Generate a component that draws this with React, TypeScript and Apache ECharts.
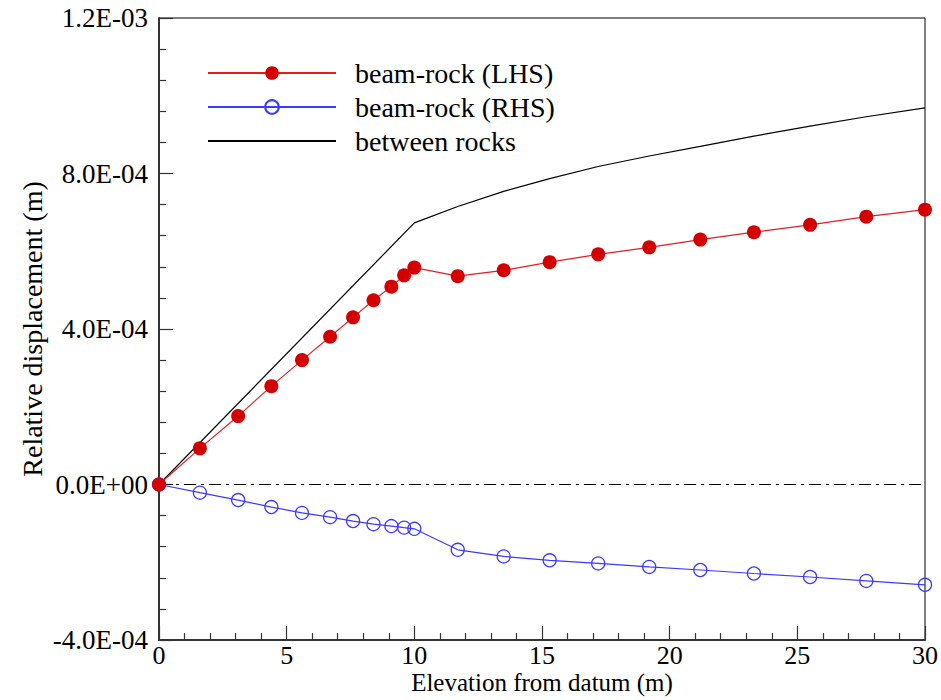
import React, { useEffect, useRef } from "react";
import * as echarts from "echarts";

const elevLHS = [0, 1.6, 3.1, 4.4, 5.6, 6.7, 7.6, 8.4, 9.1, 9.6, 10, 11.7, 13.5, 15.3, 17.2, 19.2, 21.2, 23.3, 25.5, 27.7, 30];
const dispLHS = [0, 9.3e-5, 1.76e-4, 2.53e-4, 3.2e-4, 3.8e-4, 4.3e-4, 4.74e-4, 5.09e-4, 5.38e-4, 5.58e-4, 5.36e-4, 5.51e-4, 5.72e-4, 5.92e-4, 6.1e-4, 6.3e-4, 6.49e-4, 6.68e-4, 6.89e-4, 7.07e-4];

const elevRHS = [0, 1.6, 3.1, 4.4, 5.6, 6.7, 7.6, 8.4, 9.1, 9.6, 10, 11.7, 13.5, 15.3, 17.2, 19.2, 21.2, 23.3, 25.5, 27.7, 30];
const dispRHS = [0, -2.1e-5, -4.0e-5, -5.8e-5, -7.3e-5, -8.4e-5, -9.4e-5, -1.02e-4, -1.07e-4, -1.11e-4, -1.14e-4, -1.68e-4, -1.85e-4, -1.95e-4, -2.03e-4, -2.12e-4, -2.2e-4, -2.29e-4, -2.38e-4, -2.48e-4, -2.58e-4];

const elevRock = [0, 10, 11.7, 13.5, 15.3, 17.2, 19.2, 21.2, 23.3, 25.5, 27.7, 30];
const dispRock = [0, 6.73e-4, 7.15e-4, 7.54e-4, 7.87e-4, 8.18e-4, 8.45e-4, 8.7e-4, 8.96e-4, 9.22e-4, 9.46e-4, 9.69e-4];

const zeroX = [0, 30];
const zeroY = [0, 0];

const seriesNames = ["beam-rock (LHS)", "beam-rock (RHS)", "between rocks"];

const pairs = (xs: number[], ys: number[]) => xs.map((x, i) => [x, ys[i]]);

const fmtExp = (v: number) => {
  const s = v.toExponential(1);
  const [m, e] = s.split("e");
  const sign = e[0] === "-" ? "-" : "+";
  const digits = e.replace(/[+-]/, "").padStart(2, "0");
  return `${m}E${sign}${digits}`;
};

const FONT = "'Liberation Serif', 'Times New Roman', serif";

export default function App() {
  const ref = useRef<HTMLDivElement>(null);
  useEffect(() => {
    if (!ref.current) return;
    const chart = echarts.init(ref.current, undefined, { renderer: "svg" });
    chart.setOption({
      animation: false,
      backgroundColor: "#fff",
      textStyle: { fontFamily: FONT },
      grid: {
        left: 159,
        right: 16,
        top: 18,
        bottom: 60,
        show: true,
        borderColor: "#000",
        borderWidth: 1,
        containLabel: false,
        outerBoundsMode: "none",
      },
      legend: {
        data: [
          { name: seriesNames[0] },
          { name: seriesNames[1] },
          { name: seriesNames[2], itemStyle: { color: "rgba(0,0,0,0)", borderWidth: 0, opacity: 0 } },
        ],
        orient: "vertical",
        left: 207,
        top: 59,
        padding: 0,
        itemWidth: 128,
        itemHeight: 17,
        itemGap: 6,
        textStyle: { fontFamily: FONT, fontSize: 28, color: "#000", padding: [0, 0, 0, 14] },
      },
      xAxis: {
        type: "value",
        min: 0,
        max: 30,
        interval: 5,
        name: "Elevation from datum (m)",
        nameLocation: "middle",
        nameGap: 30,
        nameMoveOverlap: false,
        nameTextStyle: { fontFamily: FONT, fontSize: 25, color: "#000" },
        axisLine: { onZero: false, lineStyle: { color: "#333", width: 2 } },
        axisTick: { inside: true, length: 14, lineStyle: { color: "#333", width: 1.2 } },
        minorTick: { show: true, splitNumber: 5, length: 7, lineStyle: { color: "#333", width: 1.2 } },
        axisLabel: { fontFamily: FONT, fontSize: 26, color: "#000", margin: 2 },
        splitLine: { show: false },
      },
      yAxis: {
        type: "value",
        min: -0.0004,
        max: 0.0012,
        interval: 0.0004,
        name: "Relative displacement (m)",
        nameLocation: "middle",
        nameGap: 113,
        nameMoveOverlap: false,
        nameRotate: 90,
        nameTextStyle: { fontFamily: FONT, fontSize: 28, color: "#000" },
        axisLine: { show: true, onZero: false, lineStyle: { color: "#333", width: 2 } },
        axisTick: { inside: true, length: 14, lineStyle: { color: "#333", width: 1.2 } },
        minorTick: { show: true, splitNumber: 5, length: 7, lineStyle: { color: "#333", width: 1.2 } },
        axisLabel: { fontFamily: FONT, fontSize: 27, color: "#000", margin: 11, formatter: (v: number) => fmtExp(v) },
        splitLine: { show: false },
      },
      series: [
        {
          name: "zero",
          type: "line",
          data: pairs(zeroX, zeroY),
          symbol: "none",
          lineStyle: { color: "#000", width: 1.2, type: [12, 5, 3, 5] },
          silent: true,
          z: 1,
        },
        {
          name: "between rocks",
          type: "line",
          data: pairs(elevRock, dispRock),
          symbol: "none",
          color: "#000",
          lineStyle: { color: "#000", width: 1.2 },
          z: 2,
        },
        {
          name: "beam-rock (RHS)",
          type: "line",
          data: pairs(elevRHS, dispRHS),
          symbol: "circle",
          symbolSize: 13,
          color: "#3a3aff",
          itemStyle: { color: "rgba(255,255,255,0)", borderColor: "#3a3aff", borderWidth: 1.3 },
          lineStyle: { color: "#3a3aff", width: 1.2 },
          z: 3,
        },
        {
          name: "beam-rock (LHS)",
          type: "line",
          data: pairs(elevLHS, dispLHS),
          symbol: "circle",
          symbolSize: 14,
          color: "#d40000",
          itemStyle: { color: "#d40000", borderWidth: 0 },
          lineStyle: { color: "#e02020", width: 1.2 },
          z: 4,
        },
      ],
    });
    return () => chart.dispose();
  }, []);
  return <div ref={ref} style={{ width: 941, height: 700, position: "absolute", left: 0, top: 0 }} />;
}
